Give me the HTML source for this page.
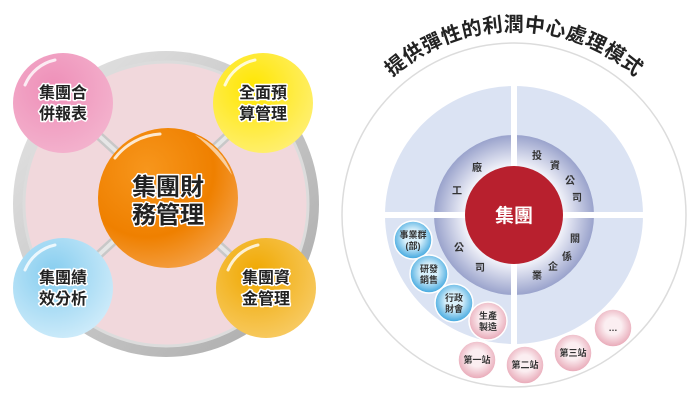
<!DOCTYPE html>
<html><head><meta charset="utf-8"><style>
html,body{margin:0;padding:0;background:#fff;width:700px;height:407px;overflow:hidden}
svg{display:block}
text{font-family:"Liberation Sans","Noto Sans CJK TC",sans-serif;font-weight:bold}
.o{fill:#222;stroke:#fff;stroke-width:3;paint-order:stroke;stroke-linejoin:round}
.s{fill:#333;font-size:9px}
.r{fill:#333;font-size:10px}
</style></head><body>
<svg width="700" height="407" viewBox="0 0 700 407">
<defs>
<linearGradient id="ring" x1="0" y1="0" x2="1" y2="1"><stop offset="0" stop-color="#e8e8e8"/><stop offset="1" stop-color="#a8a8a8"/></linearGradient>
<radialGradient id="gor" cx="0.35" cy="0.3" r="0.8"><stop offset="0" stop-color="#f7961c"/><stop offset="0.6" stop-color="#ef8000"/><stop offset="1" stop-color="#f5a550"/></radialGradient>
<radialGradient id="gpk" cx="0.4" cy="0.35" r="0.75"><stop offset="0" stop-color="#ee8fb8"/><stop offset="1" stop-color="#f4b5cf"/></radialGradient>
<radialGradient id="gye" cx="0.4" cy="0.35" r="0.75"><stop offset="0" stop-color="#ffe600"/><stop offset="1" stop-color="#fff07a"/></radialGradient>
<radialGradient id="gbl" cx="0.4" cy="0.35" r="0.75"><stop offset="0" stop-color="#86cdef"/><stop offset="1" stop-color="#d4eefb"/></radialGradient>
<radialGradient id="ggo" cx="0.4" cy="0.35" r="0.75"><stop offset="0" stop-color="#f0a800"/><stop offset="1" stop-color="#f8cd6a"/></radialGradient>
<radialGradient id="gmid" cx="0.5" cy="0.5" r="0.5"><stop offset="0.6" stop-color="#f4f5fb"/><stop offset="1" stop-color="#9aa3cc"/></radialGradient>
<radialGradient id="gsb" cx="0.5" cy="0.45" r="0.55"><stop offset="0.4" stop-color="#d8f0fb"/><stop offset="1" stop-color="#3fa6de"/></radialGradient>
<radialGradient id="gsp" cx="0.5" cy="0.45" r="0.55"><stop offset="0.4" stop-color="#fbeef1"/><stop offset="1" stop-color="#e8a7b6"/></radialGradient>
<path id="tp" d="M 330 215 A 184 184 0 0 1 698 215"/>
</defs>

<!-- LEFT -->
<circle cx="166" cy="204" r="153" fill="url(#ring)"/>
<circle cx="166" cy="204" r="142" fill="#f1d8dc" stroke="#dcdcdc" stroke-width="3"/>
<line x1="63" y1="103" x2="266" y2="288" stroke="#c8c8c8" stroke-width="9"/>
<line x1="263" y1="103" x2="63" y2="288" stroke="#c8c8c8" stroke-width="9"/>
<line x1="63" y1="103" x2="266" y2="288" stroke="#e6e6e6" stroke-width="4"/>
<line x1="263" y1="103" x2="63" y2="288" stroke="#e6e6e6" stroke-width="4"/>

<circle cx="63" cy="103" r="50" fill="url(#gpk)"/>
<circle cx="263" cy="103" r="50" fill="url(#gye)"/>
<circle cx="63" cy="288" r="50" fill="url(#gbl)"/>
<circle cx="266" cy="288" r="50" fill="url(#ggo)"/>
<circle cx="168" cy="198" r="70" fill="url(#gor)"/>
<g fill="none" stroke="#fff" stroke-opacity="0.8" stroke-width="3" stroke-linecap="round">
<path d="M 25 85 A 42 42 0 0 1 55 60"/><path d="M 225 85 A 42 42 0 0 1 255 60"/>
<path d="M 25 270 A 42 42 0 0 1 55 245"/><path d="M 228 270 A 42 42 0 0 1 258 245"/>
<path d="M 115 158 A 62 62 0 0 1 160 134"/>
</g>
<path d="M 195 135 A 65 65 0 0 1 232 175 Q 215 150 195 135 Z" fill="#fff" opacity="0.6"/>
<g font-size="16" text-anchor="middle" class="o">
<text x="63" y="98" class="o">集團合</text><text x="63" y="119" class="o">併報表</text>
<text x="263" y="98" class="o">全面預</text><text x="263" y="119" class="o">算管理</text>
<text x="63" y="283" class="o">集團績</text><text x="63" y="304" class="o">效分析</text>
<text x="266" y="283" class="o">集團資</text><text x="266" y="304" class="o">金管理</text>
</g>
<text x="168" y="195" font-size="24" text-anchor="middle" class="o">集團財</text>
<text x="168" y="223" font-size="24" text-anchor="middle" class="o">務管理</text>

<!-- RIGHT -->
<circle cx="514" cy="215" r="172" fill="none" stroke="#dcdcdc" stroke-width="1.5"/>
<text font-size="20" fill="#222" letter-spacing="0.5" style="font-weight:bold"><textPath href="#tp" startOffset="50%" text-anchor="middle">提供彈性的利潤中心處理模式</textPath></text>
<circle cx="514" cy="215" r="129" fill="#dbe3f3"/>
<circle cx="514" cy="215" r="80" fill="url(#gmid)"/>
<rect x="511" y="84" width="6" height="262" fill="#fff"/>
<rect x="383" y="212" width="262" height="6" fill="#fff"/>
<circle cx="514" cy="215" r="49" fill="#b8202e"/>
<text x="514" y="222" font-size="19" fill="#fff" text-anchor="middle">集團</text>
<g class="r" text-anchor="middle">
<text x="477" y="171">廠</text><text x="457" y="194">工</text>
<text x="537" y="159">投</text><text x="555" y="169">資</text><text x="570" y="184">公</text><text x="577" y="201">司</text>
<text x="575" y="242">關</text><text x="567" y="260">係</text><text x="553" y="270">企</text><text x="537" y="279">業</text>
<text x="459" y="251">公</text><text x="480" y="271">司</text>
</g>
<g stroke="#fff" stroke-width="1.5">
<circle cx="413" cy="240" r="19" fill="url(#gsb)"/>
<circle cx="429" cy="274" r="19" fill="url(#gsb)"/>
<circle cx="454" cy="303" r="19" fill="url(#gsb)"/>
<circle cx="488" cy="321" r="19" fill="url(#gsp)"/>
<circle cx="477" cy="360" r="19" fill="url(#gsp)"/>
<circle cx="525" cy="365" r="19" fill="url(#gsp)"/>
<circle cx="573" cy="353" r="19" fill="url(#gsp)"/>
<circle cx="613" cy="328" r="19" fill="url(#gsp)"/>
</g>
<g class="s" text-anchor="middle">
<text x="413" y="238">事業群</text><text x="413" y="249">(部)</text>
<text x="429" y="272">研發</text><text x="429" y="283">銷售</text>
<text x="454" y="301">行政</text><text x="454" y="312">財會</text>
<text x="488" y="319">生產</text><text x="488" y="330">製造</text>
<text x="477" y="363">第一站</text><text x="525" y="368">第二站</text><text x="573" y="356">第三站</text>
<text x="613" y="331">…</text>
</g>
</svg>
</body></html>
